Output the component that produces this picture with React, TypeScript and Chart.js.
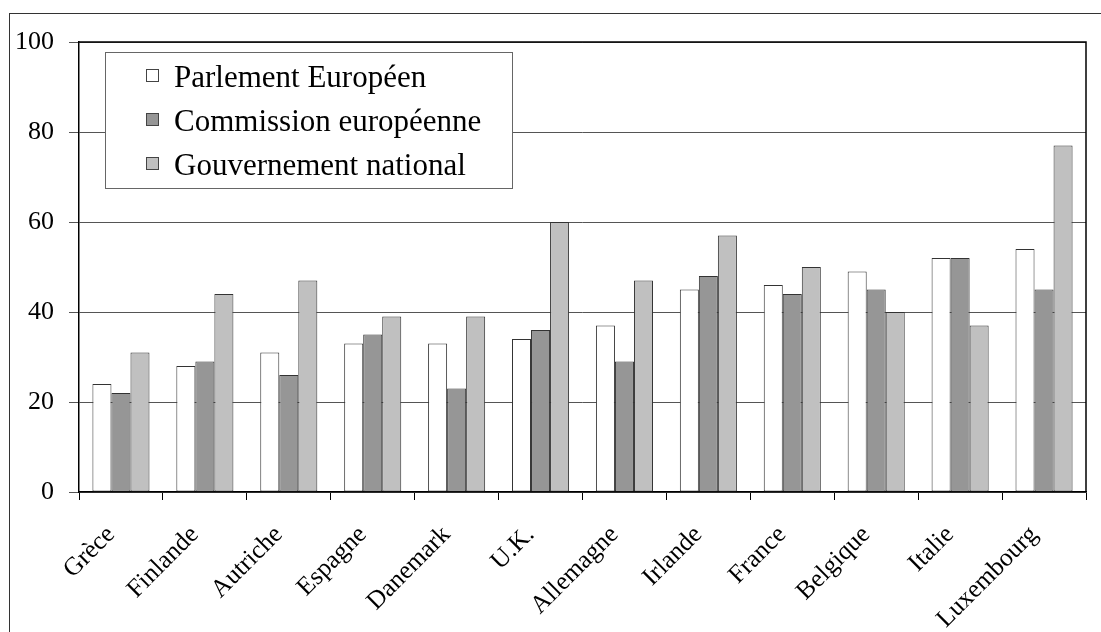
import React, { useEffect, useRef } from "react";
import { Chart, registerables } from "chart.js";

Chart.register(...registerables);

const categories = [
  "Grèce", "Finlande", "Autriche", "Espagne", "Danemark", "U.K.",
  "Allemagne", "Irlande", "France", "Belgique", "Italie", "Luxembourg",
];
const seriesNames = ["Parlement Européen", "Commission européenne", "Gouvernement national"];
const parlement = [24, 28, 31, 33, 33, 34, 37, 45, 46, 49, 52, 54];
const commission = [22, 29, 26, 35, 23, 36, 29, 48, 44, 45, 52, 45];
const gouvernement = [31, 44, 47, 39, 39, 60, 47, 57, 50, 40, 37, 77];
const seriesColors = ["#ffffff", "#969696", "#c0c0c0"];
const yTicks = [0, 20, 40, 60, 80, 100];

const FONT = "'Liberation Serif', 'Times New Roman', serif";

const frameAndLegend = {
  id: "frameAndLegend",
  afterDraw(chart: any) {
    const ctx = chart.ctx;
    const a = chart.chartArea;
    ctx.save();
    ctx.strokeStyle = "#000";
    ctx.lineWidth = 1.5;
    ctx.beginPath();
    ctx.moveTo(a.left, a.top);
    ctx.lineTo(a.right, a.top);
    ctx.lineTo(a.right, a.bottom);
    ctx.stroke();

    // legend box
    const bx = 105.5, by = 52.5, bw = 407, bh = 136;
    ctx.fillStyle = "#fff";
    ctx.fillRect(bx, by, bw, bh);
    ctx.strokeStyle = "#666";
    ctx.lineWidth = 1;
    ctx.strokeRect(bx, by, bw, bh);
    ctx.font = `31px ${FONT}`;
    ctx.textBaseline = "alphabetic";
    ctx.textAlign = "left";
    chart.data.datasets.forEach((ds: any, i: number) => {
      const cy = 76 + i * 44;
      ctx.fillStyle = ds.backgroundColor;
      ctx.fillRect(146.5, cy - 6.5, 12, 12);
      ctx.strokeStyle = "#444";
      ctx.strokeRect(146.5, cy - 6.5, 12, 12);
      ctx.fillStyle = "#000";
      ctx.fillText(ds.label, 174, cy + 10.5);
    });
    ctx.restore();
  },
};

export default function App() {
  const ref = useRef<HTMLCanvasElement>(null);
  useEffect(() => {
    const values = [parlement, commission, gouvernement];
    const chart = new Chart(ref.current!, {
      type: "bar",
      data: {
        labels: categories,
        datasets: values.map((v, i) => ({
          label: seriesNames[i],
          data: v,
          backgroundColor: seriesColors[i],
          borderColor: "#333",
          borderWidth: 1,
          borderSkipped: false,
          categoryPercentage: 0.68,
          barPercentage: 1,
        })),
      },
      options: {
        responsive: false,
        animation: false,
        devicePixelRatio: 1,
        layout: { padding: { left: 0, top: 42, right: 15, bottom: 0 } },
        plugins: { legend: { display: false }, tooltip: { enabled: false }, title: { display: false } },
        scales: {
          x: {
            grid: { drawOnChartArea: false, drawTicks: true, tickLength: 8, color: "#000", lineWidth: 1, offset: true },
            border: { color: "#000", width: 1.5 },
            ticks: {
              color: "#000",
              font: { family: FONT, size: 25.5 },
              maxRotation: 45,
              minRotation: 45,
              autoSkip: false,
              padding: 20,
              labelOffset: -10,
            },
            afterFit: (s: any) => { s.height = 140; },
          },
          y: {
            min: 0,
            max: 100,
            afterBuildTicks: (s: any) => { s.ticks = yTicks.map((v) => ({ value: v })); },
            grid: { color: "#555", lineWidth: 1, tickLength: 10, drawTicks: true },
            border: { color: "#000", width: 1.5 },
            ticks: { color: "#000", font: { family: FONT, size: 26 }, padding: 15 },
            afterFit: (s: any) => { s.width = 79; },
          },
        },
      },
      plugins: [frameAndLegend],
    });
    return () => chart.destroy();
  }, []);

  return (
    <div style={{ position: "fixed", left: 0, top: 0, width: 1101, height: 632, overflow: "hidden", background: "#fff" }}>
      <div style={{ position: "absolute", left: 9, top: 13, width: 1200, height: 700, border: "1.5px solid #333" }} />
      <canvas ref={ref} width={1101} height={632} style={{ position: "absolute", left: 0, top: 0, width: 1101, height: 632 }} />
    </div>
  );
}
